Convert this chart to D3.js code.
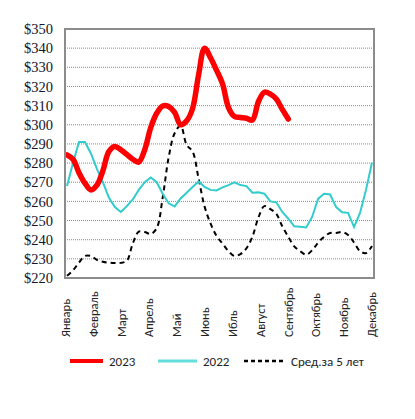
<!DOCTYPE html>
<html>
<head>
<meta charset="utf-8">
<script src="https://cdn.jsdelivr.net/npm/d3@7"></script>
<style>
body { margin: 0; background: #fff; }
svg { display: block; }
</style>
</head>
<body>
<div id="chart"></div>
<script>
var w = 415, h = 419;

// month labels on the x axis
var months = ["Январь", "Февраль", "Март", "Апрель", "Май", "Июнь", "Ибль", "Август", "Сентябрь", "Октябрь", "Ноябрь", "Декабрь"];
var yTicks = [220, 230, 240, 250, 260, 270, 280, 290, 300, 310, 320, 330, 340, 350];

// weekly prices
var y2023 = [284.3, 282, 275, 269.5, 266, 268.5, 276, 286, 288.7, 287, 284.5, 282, 280.5, 287, 298.5,
  306, 309.8, 309.5, 306.5, 300, 302, 308.5, 326, 340, 335, 328.5, 321.5, 309, 304.3, 303.8,
  303.4, 302.5, 312, 317, 316, 313.5, 308, 303];
var y2022 = [268, 280, 291, 291, 285, 277, 270, 262, 257, 254.5, 257.5, 261, 266, 270, 272.5,
  270, 264, 259, 257.4, 261.5, 264.5, 267.5, 270.4, 267.5, 266, 265.7, 267.3, 268.5, 269.9, 268.5,
  268, 264.5, 264.7, 264, 260, 259.5, 254.5, 251, 247, 246.8, 246.4, 252, 261.4, 264, 263.6,
  257, 254.3, 254, 246.6, 254, 266, 280.3];
var avg5 = [221.2, 224, 228, 231.5, 231.5, 229.5, 228.5, 228, 227.8, 227.9, 229, 238, 244.2, 244, 243,
  246, 262, 283, 295.6, 299.5, 289.5, 286, 272, 257.4, 248.5, 242, 238, 234, 231.5, 232.5,
  235.5, 241.5, 251.5, 257.5, 256, 253.5, 247, 241.5, 236.5, 234, 232.2, 234.5, 238.5, 241.5, 243.5,
  243.5, 244, 242.5, 238.5, 234, 233, 236.7];

var seriesNames = ["2023", "2022", "Сред.за 5 лет"];
var seriesColors = ["#ff0000", "#33cccc", "#000000"];

var mLeft = 65, mRight = 374, mTop = 29, mBottom = 278;
var labelFont = "Carlito, 'Liberation Sans', Arial, sans-serif";

var svg = d3.select("#chart").append("svg")
  .attr("width", w)
  .attr("height", h);

var x = d3.scaleLinear().domain([0, 51]).range([67, 372]);
var xMonth = d3.scalePoint().domain(months).range([66, 372]);
var y = d3.scaleLinear().domain([220, 350]).range([mBottom, mTop]);

// dotted gridlines
svg.append("g")
  .selectAll("line")
  .data(yTicks.filter(function(d) { return d > 220 && d < 350; }))
  .enter().append("line")
  .attr("x1", mLeft).attr("x2", mRight)
  .attr("y1", function(d) { return y(d); })
  .attr("y2", function(d) { return y(d); })
  .attr("stroke", "#8a8a8a")
  .attr("stroke-width", 1)
  .attr("stroke-dasharray", "1,1");

// y axis labels
var yAxis = d3.axisLeft(y)
  .tickValues(yTicks)
  .tickSize(0)
  .tickPadding(12)
  .tickFormat(function(d) { return "$" + d; });

var gy = svg.append("g")
  .attr("transform", "translate(" + mLeft + ",0)")
  .call(yAxis);
gy.select(".domain").remove();
gy.selectAll("text")
  .style("font-family", "'Liberation Serif', 'Times New Roman', serif")
  .style("font-size", "14.5px")
  .attr("fill", "#14142a");

// x axis month labels, rotated
svg.append("g")
  .selectAll("text")
  .data(months)
  .enter().append("text")
  .attr("transform", function(d) { return "translate(" + (xMonth(d) + 4) + ",337) rotate(-90)"; })
  .style("font-family", labelFont)
  .style("font-size", "12.5px")
  .attr("fill", "#222")
  .text(function(d) { return d; });

var line = d3.line()
  .x(function(d, i) { return x(i); })
  .y(function(d) { return y(d); });

svg.append("path")
  .datum(avg5)
  .attr("fill", "none")
  .attr("stroke", seriesColors[2])
  .attr("stroke-width", 2)
  .attr("stroke-dasharray", "5,4")
  .attr("d", line.curve(d3.curveCatmullRom)(avg5));

svg.append("path")
  .datum(y2022)
  .attr("fill", "none")
  .attr("stroke", seriesColors[1])
  .attr("stroke-width", 2)
  .attr("d", line.curve(d3.curveLinear)(y2022));

svg.append("path")
  .datum(y2023)
  .attr("fill", "none")
  .attr("stroke", seriesColors[0])
  .attr("stroke-width", 5.5)
  .attr("stroke-linejoin", "round")
  .attr("stroke-linecap", "round")
  .attr("d", line.curve(d3.curveCatmullRom)(y2023));

// plot frame
svg.append("rect")
  .attr("x", mLeft).attr("y", mTop)
  .attr("width", mRight - mLeft).attr("height", mBottom - mTop)
  .attr("fill", "none")
  .attr("stroke", "#8c8c8c")
  .attr("stroke-width", 2);

// legend
var legendX = [70, 158, 244];
var legendLen = [33, 39, 41];
var lg = svg.append("g");
seriesNames.forEach(function(name, i) {
  lg.append("line")
    .attr("x1", legendX[i]).attr("x2", legendX[i] + legendLen[i])
    .attr("y1", 361).attr("y2", 361)
    .attr("stroke", i == 1 ? "#66dddd" : seriesColors[i])
    .attr("stroke-width", i == 0 ? 4 : (i == 1 ? 3 : 2.5))
    .attr("stroke-dasharray", i == 2 ? "4,3" : null);
  lg.append("text")
    .attr("x", legendX[i] + legendLen[i] + 6)
    .attr("y", 365.5)
    .style("font-family", labelFont)
    .style("font-size", "13px")
    .attr("fill", "#222")
    .text(name);
});
</script>
</body>
</html>
